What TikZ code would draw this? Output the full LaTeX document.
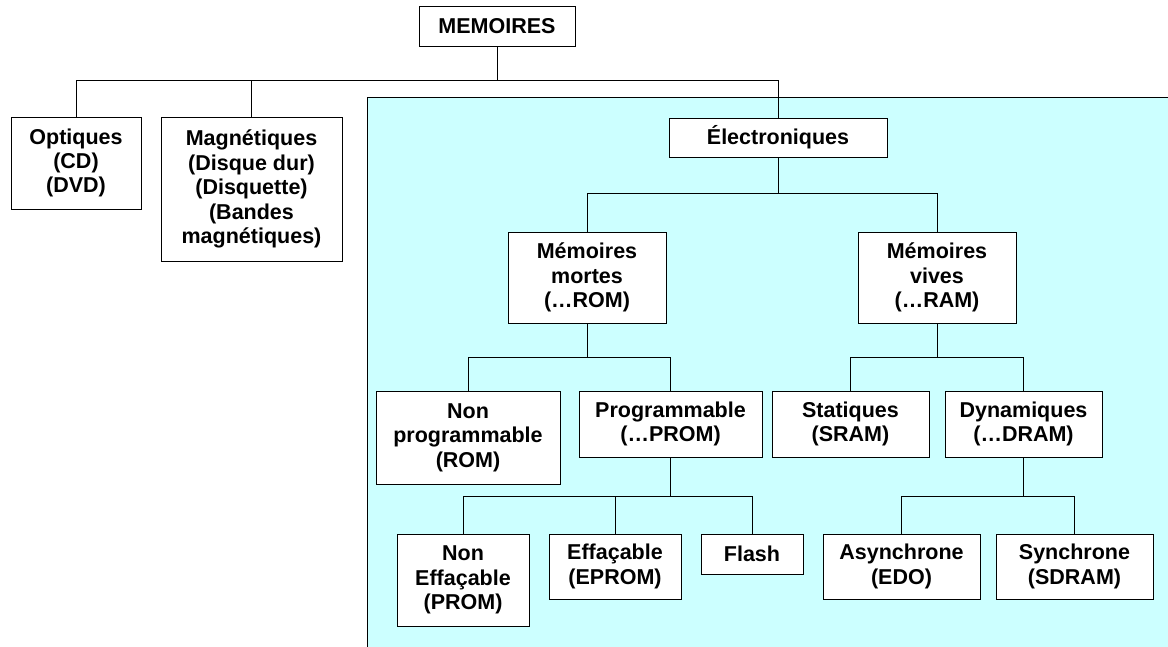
\documentclass[tikz,border=0pt]{standalone}
\usepackage{fontspec}
\setmainfont{Liberation Sans}
\definecolor{zone}{HTML}{CCFFFF}
\tikzset{
  box/.style={draw=black, fill=white, line width=1pt, align=center, inner sep=0pt,
    font=\fontsize{21.5}{24.4}\selectfont\bfseries},
  link/.style={draw=black, line width=1pt},
}
\begin{document}
\begin{tikzpicture}[x=1pt,y=-1pt]
\useasboundingbox (0,0) rectangle (1168,646);
\fill[white] (0,0) rectangle (1168,646);
\begin{scope}
\clip (0,0) rectangle (1168,646);
\filldraw[fill=zone, draw=black, line width=1pt] (367,97) rectangle (1190,680);
\end{scope}
% boxes
\node[box, minimum width=156, minimum height=40] (mem) at (497,26) {MEMOIRES};
\node[box, minimum width=130, minimum height=92] (opt) at (76,163) {Optiques\\(CD)\\(DVD)};
\node[box, minimum width=181, minimum height=144] (mag) at (251.5,189) {Magnétiques\\(Disque dur)\\(Disquette)\\(Bandes\\magnétiques)};
\node[box, minimum width=218, minimum height=39] (elec) at (778,137.5) {Électroniques};
\node[box, minimum width=158, minimum height=91] (mortes) at (587,277.5) {Mémoires\\mortes\\(…ROM)};
\node[box, minimum width=158, minimum height=91] (vives) at (937,277.5) {Mémoires\\vives\\(…RAM)};
\node[box, minimum width=184, minimum height=93] (nonprog) at (468,437.5) {Non\\programmable\\(ROM)};
\node[box, minimum width=183, minimum height=66] (prog) at (670.5,424) {Programmable\\(…PROM)};
\node[box, minimum width=157, minimum height=66] (stat) at (850.5,424) {Statiques\\(SRAM)};
\node[box, minimum width=157, minimum height=66] (dyn) at (1023.5,424) {Dynamiques\\(…DRAM)};
\node[box, minimum width=132, minimum height=92] (nonef) at (463,580) {Non\\Effaçable\\(PROM)};
\node[box, minimum width=132, minimum height=65] (ef) at (615,566.5) {Effaçable\\(EPROM)};
\node[box, minimum width=102, minimum height=40] (flash) at (752,554) {Flash};
\node[box, minimum width=157, minimum height=65] (async) at (901.5,566.5) {Asynchrone\\(EDO)};
\node[box, minimum width=157, minimum height=65] (sync) at (1074.5,566.5) {Synchrone\\(SDRAM)};
% connectors
\draw[link] (mem.south) -- ++(0,34) coordinate (j1);
\draw[link] (opt.north) |- (j1) -| (elec.north);
\draw[link] (mag.north) -- (mag.north |- j1);
\draw[link] (elec.south) -- ++(0,36) coordinate (j2);
\draw[link] (mortes.north) |- (j2) -| (vives.north);
\draw[link] (mortes.south) -- ++(0,34) coordinate (j3);
\draw[link] (nonprog.north) |- (j3) -| (prog.north);
\draw[link] (vives.south) -- ++(0,34) coordinate (j4);
\draw[link] (stat.north) |- (j4) -| (dyn.north);
\draw[link] (prog.south) -- ++(0,39) coordinate (j5);
\draw[link] (nonef.north) |- (j5) -| (flash.north);
\draw[link] (ef.north) -- (ef.north |- j5);
\draw[link] (dyn.south) -- ++(0,39) coordinate (j6);
\draw[link] (async.north) |- (j6) -| (sync.north);
\end{tikzpicture}
\end{document}
